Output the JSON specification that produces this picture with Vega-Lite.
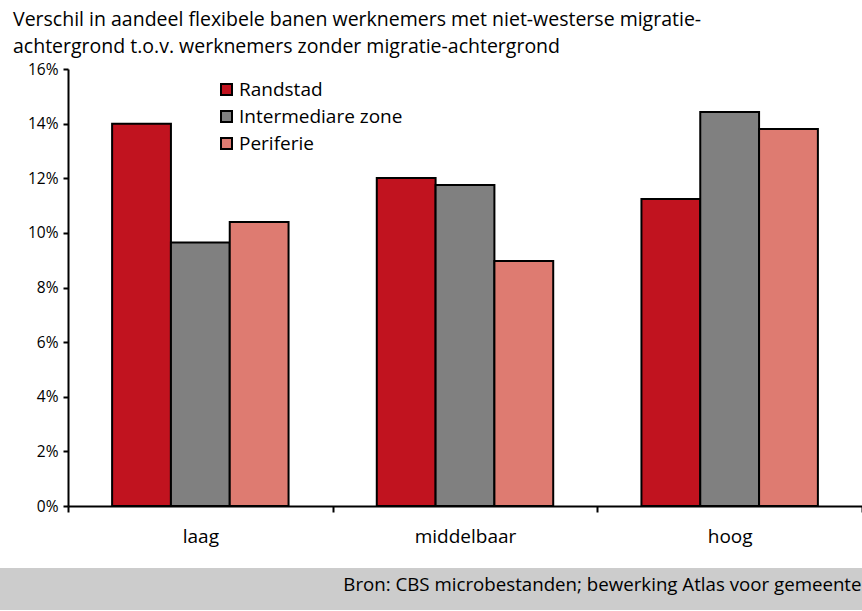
{
  "$schema": "https://vega.github.io/schema/vega-lite/v6.json",
  "background": "white",
  "padding": {"top": 9, "left": 0, "right": 0, "bottom": 0},
  "spacing": 0,
  "config": {"font": "Open Sans", "view": {"stroke": null}},
  "title": {
    "text": ["Verschil in aandeel flexibele banen werknemers met niet-westerse migratie-", "achtergrond t.o.v. werknemers zonder migratie-achtergrond"],
    "anchor": "start",
    "frame": "bounds",
    "fontSize": 19.5,
    "fontWeight": "normal",
    "font": "Open Sans",
    "color": "black",
    "lineHeight": 27,
    "dx": 13,
    "offset": 5
  },
  "vconcat": [
    {
      "width": 862,
      "height": 437,
      "data": {
        "values": [
          {"niveau": "laag", "regio": "Randstad", "verschil": 0.1400},
          {"niveau": "laag", "regio": "Intermediare zone", "verschil": 0.0965},
          {"niveau": "laag", "regio": "Periferie", "verschil": 0.1040},
          {"niveau": "middelbaar", "regio": "Randstad", "verschil": 0.1201},
          {"niveau": "middelbaar", "regio": "Intermediare zone", "verschil": 0.1175},
          {"niveau": "middelbaar", "regio": "Periferie", "verschil": 0.0897},
          {"niveau": "hoog", "regio": "Randstad", "verschil": 0.1124},
          {"niveau": "hoog", "regio": "Intermediare zone", "verschil": 0.1443},
          {"niveau": "hoog", "regio": "Periferie", "verschil": 0.1380}
        ]
      },
      "mark": {"type": "bar", "stroke": "black", "strokeWidth": 2},
      "encoding": {
        "x": {
          "field": "niveau",
          "type": "nominal",
          "sort": ["laag", "middelbaar", "hoog"],
          "scale": {"paddingInner": 0, "paddingOuter": 0, "range": [68, 862]},
          "axis": {
            "title": null,
            "labelAngle": 0,
            "tickBand": "extent",
            "domainColor": "black",
            "domainWidth": 2,
            "tickColor": "black",
            "tickWidth": 2,
            "tickSize": 6,
            "labelFontSize": 19,
            "labelColor": "black",
            "labelPadding": 15,
            "minExtent": 62,
            "maxExtent": 62
          }
        },
        "xOffset": {
          "field": "regio",
          "type": "nominal",
          "sort": ["Randstad", "Intermediare zone", "Periferie"],
          "scale": {"paddingInner": 0, "paddingOuter": 0.75}
        },
        "y": {
          "field": "verschil",
          "type": "quantitative",
          "scale": {"domain": [0, 0.16]},
          "axis": {
            "title": null,
            "offset": -68,
            "values": [0, 0.02, 0.04, 0.06, 0.08, 0.1, 0.12, 0.14, 0.16],
            "format": ".0%",
            "grid": false,
            "domainColor": "black",
            "domainWidth": 2,
            "tickColor": "black",
            "tickWidth": 2,
            "tickSize": 5,
            "labelFontSize": 15.5,
            "labelColor": "black",
            "labelPadding": 5
          }
        },
        "color": {
          "field": "regio",
          "type": "nominal",
          "sort": ["Randstad", "Intermediare zone", "Periferie"],
          "scale": {
            "domain": ["Randstad", "Intermediare zone", "Periferie"],
            "range": ["#c1131f", "#808080", "#de7b71"]
          },
          "legend": {
            "title": null,
            "orient": "none",
            "legendX": 217,
            "legendY": 11,
            "symbolType": "square",
            "symbolSize": 121,
            "symbolStrokeColor": "black",
            "symbolStrokeWidth": 2,
            "symbolOpacity": 1,
            "labelFontSize": 19,
            "labelColor": "black",
            "labelOffset": 3,
            "labelLimit": 400,
            "rowPadding": 7
          }
        }
      }
    },
    {
      "width": 862,
      "height": 42,
      "view": {"fill": "#cccccc", "stroke": null},
      "data": {"values": [{"bron": "Bron: CBS microbestanden; bewerking Atlas voor gemeenten"}]},
      "mark": {"type": "text", "align": "right", "baseline": "middle", "fontSize": 18.7, "color": "black", "dx": 11, "dy": -4},
      "encoding": {
        "text": {"field": "bron", "type": "nominal"},
        "x": {"datum": 1, "type": "quantitative", "scale": {"domain": [0, 1]}, "axis": null}
      }
    }
  ]
}
